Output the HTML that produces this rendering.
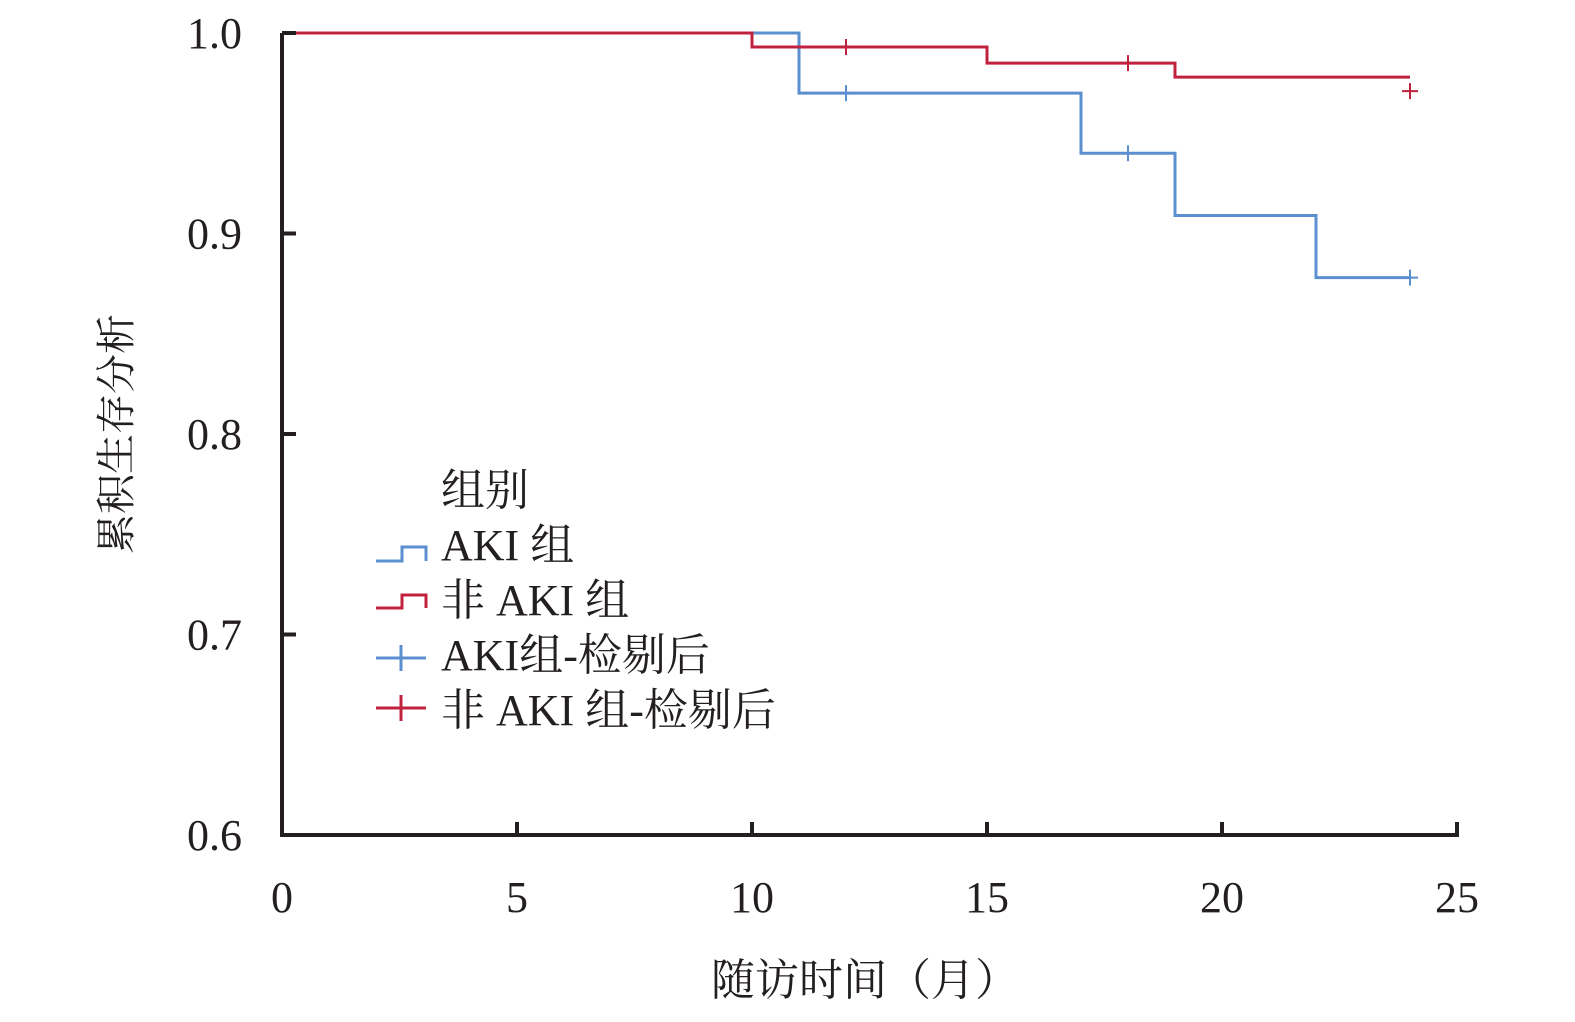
<!DOCTYPE html>
<html><head><meta charset="utf-8"><style>
body{margin:0;background:#fff}
svg text{font-family:"Liberation Serif","Noto Serif CJK SC",serif;fill:#231f20}
</style></head><body>
<svg width="1575" height="1017" xmlns="http://www.w3.org/2000/svg">
<g id="plot"></g>
<text x="130" y="434" font-size="40" text-anchor="middle" transform="rotate(-90 130 434)">累积生存分析</text>
<text x="865" y="995" font-size="44" text-anchor="middle">随访时间（月）</text>
<g>
<text x="441" y="505" font-size="44">组别</text>
<g><path d="M376 561H402V547H426V561" fill="none" stroke="#5b8fd0" stroke-width="3"/><text x="441" y="560" font-size="44">AKI 组</text></g>
<g><path d="M376 608H402V595H426V608" fill="none" stroke="#c0223e" stroke-width="3"/><text x="441" y="615" font-size="44">非 AKI 组</text></g>
<g><path d="M376 658H426M401 645V671" stroke="#5b8fd0" stroke-width="3"/><text x="441" y="670" font-size="44">AKI组-检剔后</text></g>
<g><path d="M376 708H426M401 695V721" stroke="#c0223e" stroke-width="3"/><text x="441" y="725" font-size="44">非 AKI 组-检剔后</text></g>
</g>
</svg>
<script>
const xTicks=[0,5,10,15,20,25];
const yTicks=[0.6,0.7,0.8,0.9,1.0];
const yTickLabels=["0.6","0.7","0.8","0.9","1.0"];
const akiTimes=[0,11,17,19,22,24];
const akiSurv=[1.0,0.970,0.940,0.909,0.878,0.878];
const nonAkiTimes=[0,10,15,19,24];
const nonAkiSurv=[1.0,0.993,0.985,0.978,0.978];
const akiCensorT=[12,18,24];
const akiCensorS=[0.970,0.940,0.878];
const nonAkiCensorT=[12,18,24];
const nonAkiCensorS=[0.993,0.985,0.971];
const X=t=>282+t*47;
const Y=v=>835-(v-0.6)/0.4*802;
const NS="http://www.w3.org/2000/svg";
const g=document.getElementById('plot');
function mk(tag,attrs){const e=document.createElementNS(NS,tag);for(const k in attrs)e.setAttribute(k,attrs[k]);g.appendChild(e);return e;}
function step(ts,ss,color,name){let d=`M${X(ts[0])} ${Y(ss[0])}`;for(let i=1;i<ts.length;i++){d+=`H${X(ts[i])}V${Y(ss[i])}`;}
const p=mk('path',{d:d,fill:'none',stroke:color,'stroke-width':3});

}
function cens(ts,ss,color,name){ts.forEach((t,i)=>{const p=mk('path',{d:`M${X(t)-8} ${Y(ss[i])}H${X(t)+8}M${X(t)} ${Y(ss[i])-8}V${Y(ss[i])+8}`,stroke:color,'stroke-width':2});

});}
step(akiTimes,akiSurv,'#5b8fd0','aki-curve');
step(nonAkiTimes,nonAkiSurv,'#c0223e','non-aki-curve');
cens(akiCensorT,akiCensorS,'#5b8fd0','aki-censor-mark');
cens(nonAkiCensorT,nonAkiCensorS,'#c0223e','non-aki-censor-mark');
const ax=mk('path',{d:`M${X(0)} ${Y(1)}V${Y(0.6)}H${X(25)+2}`,fill:'none',stroke:'#231f20','stroke-width':4});


xTicks.forEach(t=>{const l=mk('path',{d:`M${X(t)} ${Y(0.6)}V${Y(0.6)-13}`,stroke:'#231f20','stroke-width':4});


const tx=mk('text',{x:X(t),y:912,'font-size':44,'text-anchor':'middle'});tx.textContent=t;

});
yTicks.forEach((v,i)=>{const l=mk('path',{d:`M${X(0)} ${Y(v)}H${X(0)+14}`,stroke:'#231f20','stroke-width':4});


const tx=mk('text',{x:242,y:Y(v)+15,'font-size':44,'text-anchor':'end'});tx.textContent=yTickLabels[i];

});
</script>
</body></html>
